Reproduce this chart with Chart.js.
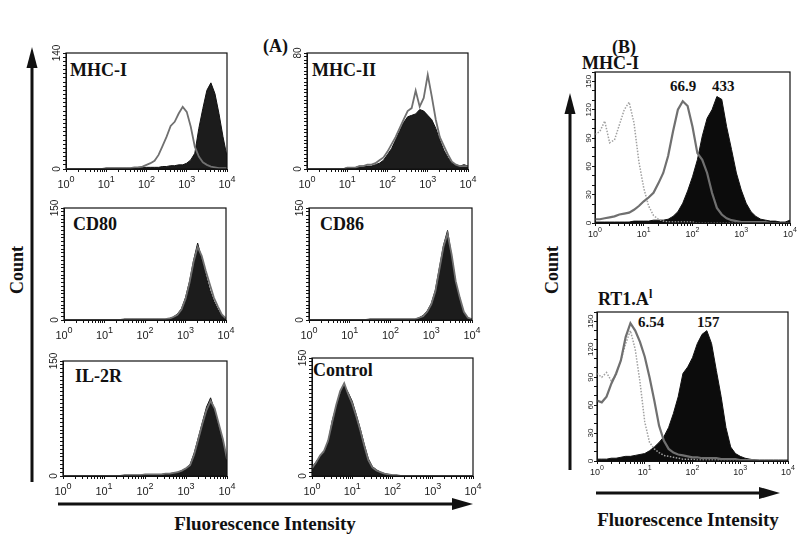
<!DOCTYPE html>
<html>
<head>
<meta charset="utf-8">
<script src="https://cdn.jsdelivr.net/npm/chart.js@4.4.1/dist/chart.umd.min.js"></script>
<style>
body { margin: 0; background: #fff; width: 800px; height: 535px; position: relative; overflow: hidden; font-family: "Liberation Serif", "Times New Roman", serif; }
canvas { position: absolute; }
svg { position: absolute; left: 0; top: 0; }
.t { position: absolute; font-weight: bold; color: #111; white-space: nowrap; line-height: 1; }
.p { font-size: 18px; }
.n { font-size: 15px; }
</style>
</head>
<body>
<svg width="800" height="535">
  <!-- panel A arrows -->
  <line x1="32" y1="482" x2="32" y2="64" stroke="#111" stroke-width="3"/>
  <polygon points="32,47 26.5,68 37.5,68" fill="#111"/>
  <line x1="58" y1="504" x2="455" y2="504" stroke="#111" stroke-width="3"/>
  <polygon points="473,504 452,498 452,510" fill="#111"/>
  <!-- panel B arrows -->
  <line x1="570" y1="470" x2="570" y2="110" stroke="#111" stroke-width="3"/>
  <polygon points="570,93 564.5,114 575.5,114" fill="#111"/>
  <line x1="596" y1="493" x2="762" y2="493" stroke="#111" stroke-width="3"/>
  <polygon points="780,493 759,487 759,499" fill="#111"/>
</svg>

<div class="t" style="left:263px;top:37px;font-size:18px;">(A)</div>
<div class="t" style="left:612px;top:38px;font-size:18px;">(B)</div>

<div class="t p" style="left:70px;top:61px;">MHC-I</div>
<div class="t p" style="left:312px;top:61px;">MHC-II</div>
<div class="t p" style="left:73px;top:215px;">CD80</div>
<div class="t p" style="left:320px;top:215px;">CD86</div>
<div class="t p" style="left:75px;top:367px;">IL-2R</div>
<div class="t p" style="left:313px;top:361px;">Control</div>
<div class="t p" style="left:582px;top:54px;">MHC-I</div>
<div class="t p" style="left:598px;top:288px;">RT1.A<sup style="font-size:12px;vertical-align:7px;">l</sup></div>

<div class="t n" style="left:670px;top:79px;">66.9</div>
<div class="t n" style="left:712px;top:79px;">433</div>
<div class="t n" style="left:638px;top:315px;">6.54</div>
<div class="t n" style="left:697px;top:315px;">157</div>

<div class="t" style="left:17px;top:270px;font-size:18px;transform:translate(-50%,-50%) rotate(-90deg);">Count</div>
<div class="t" style="left:552px;top:270px;font-size:18px;transform:translate(-50%,-50%) rotate(-90deg);">Count</div>
<div class="t" style="left:265px;top:514px;font-size:19px;transform:translateX(-50%);">Fluorescence Intensity</div>
<div class="t" style="left:688px;top:510px;font-size:19px;transform:translateX(-50%);">Fluorescence Intensity</div>

<script>
// histogram channels, in decades of fluorescence (10^0 .. 10^4)
const logSteps = [0,0.1,0.2,0.3,0.4,0.5,0.6,0.7,0.8,0.9,1,1.1,1.2,1.3,1.4,1.5,1.6,1.7,1.8,1.9,2,2.1,2.2,2.3,2.4,2.5,2.6,2.7,2.8,2.9,3,3.1,3.2,3.3,3.4,3.5,3.6,3.7,3.8,3.9,4];
const decadeExponents = ['0', '1', '2', '3', '4'];

// (A) counts per channel
const mhcIFill   = [0,0,0,0,0,0,0,0,0,0, 1,1,1,1,1,1,1,1,2,2, 2,2,2,2,3,3,4,4,5,5, 7,11,19,49,73,95,104,91,67,39,15];
const mhcILine   = [0,0,0,0,0,0,0,0,0,0, 1,1,1,1,1,1,1,2,2,3, 5,7,10,17,28,39,52,57,67,75, 69,51,27,15,8,5,3,2,1,1,1];
const mhcIIFill  = [0,0,0,0,0,0,0,0,0,0, 1,1,1,2,2,2,2,3,4,6, 10,14,20,26,32,36,37,38,41,40, 37,34,28,20,13,8,4,3,2,3,2];
const mhcIILine  = [0,0,0,0,0,0,0,0,0,0, 1,1,1,2,2,3,3,4,6,8, 12,17,22,28,34,40,42,54,43,49, 65,50,34,22,16,10,5,3,2,2,2];
const cd80Fill   = [0,0,0,0,0,0,0,0,0,0, 0,0,0,0,0,1,1,1,1,1, 1,1,1,1,1,1,2,4,8,15, 30,52,80,103,82,60,40,25,14,5,2];
const cd80Line   = [0,0,0,0,0,0,0,0,0,0, 0,0,0,0,0,1,1,1,1,1, 1,1,1,1,1,1,2,4,7,14, 28,50,78,98,86,66,48,30,18,7,2];
const cd86Fill   = [0,0,0,0,0,0,0,0,0,0, 0,0,0,0,0,1,1,1,1,1, 1,1,1,1,1,1,1,3,6,12, 22,40,70,100,120,85,50,28,10,3,1];
const cd86Line   = [0,0,0,0,0,0,0,0,0,0, 0,0,0,0,0,1,1,1,1,1, 1,1,1,1,1,1,1,3,5,11, 21,38,68,98,116,88,52,30,11,3,1];
const il2rFill   = [0,0,0,0,0,0,0,0,0,0, 0,0,0,0,0,1,1,1,1,1, 2,2,2,2,2,3,3,4,5,7, 10,15,30,50,70,90,102,85,65,45,20];
const il2rLine   = [0,0,0,0,0,0,0,0,0,0, 0,0,0,0,0,1,1,1,1,1, 2,2,2,2,2,3,3,4,5,7, 10,14,28,48,68,86,98,88,68,48,22];
const controlFill= [11,18,25,30,42,70,88,105,115,106, 95,78,60,40,22,12,8,5,3,2, 1,1,0,0,0,0,0,0,0,0, 0,0,0,0,0,0,0,0,0,0,0];
const controlLine= [10,17,26,32,45,68,90,108,118,104, 92,76,58,38,20,11,7,5,3,2, 1,1,0,0,0,0,0,0,0,0, 0,0,0,0,0,0,0,0,0,0,0];

// (B) counts per channel
const mhcBIso    = [94,97,108,85,88,104,120,128,106,65, 37,18,8,4,2,1,1,1,1,1, 1,0,0,0,0,0,0,0,0,0, 0,0,0,0,0,0,0,0,0,0,0];
const mhcBLine   = [4,4,5,6,7,9,10,11,14,18, 23,27,32,42,53,71,97,120,129,124, 102,74,67,53,32,16,9,5,3,2, 1,1,1,1,1,1,0,0,0,0,0];
const mhcBFill   = [1,1,1,1,1,1,1,1,2,2, 2,2,3,3,3,4,7,12,21,34, 49,67,92,111,120,134,131,102,78,53, 35,21,12,7,4,3,2,2,1,1,3];
const rt1Iso     = [94,90,95,86,92,108,126,140,120,85, 42,20,13,9,6,5,4,3,2,2, 2,1,1,1,1,1,1,1,1,1, 1,1,0,0,0,0,0,0,0,0,0];
const rt1Line    = [65,63,69,83,94,108,133,148,140,128, 112,90,65,38,22,13,9,7,6,5, 4,4,3,3,3,3,2,2,2,2, 1,1,1,1,0,0,0,0,0,0,0];
const rt1Fill    = [2,2,2,3,3,4,5,5,6,7, 8,11,15,20,26,36,51,69,94,101, 111,126,136,140,126,97,69,36,15,8, 5,3,2,1,1,1,1,1,1,1,1];

const toPoints = arr => arr.map((v, i) => ({ x: Math.pow(10, logSteps[i]), y: v }));

// minor log ticks 1..9 per decade
const xTickValues = [];
for (let d = 0; d < 4; d++) {
    for (let m = 1; m < 10; m++) xTickValues.push(m * Math.pow(10, d));
}
xTickValues.push(10000);

const panels = [
    { box: [66, 53, 227, 169],  ymax: 140, step: 5,  ylab: [0, 140], fill: mhcIFill,  line: mhcILine },
    { box: [307, 53, 468, 169], ymax: 80,  step: 2.5, ylab: [0, 80], fill: mhcIIFill, line: mhcIILine },
    { box: [64, 208, 226, 320], ymax: 150, step: 5,  ylab: [0, 150], fill: cd80Fill,  line: cd80Line },
    { box: [309, 208, 472, 320],ymax: 150, step: 5,  ylab: [0, 150], fill: cd86Fill,  line: cd86Line },
    { box: [63, 361, 227, 476], ymax: 150, step: 5,  ylab: [0, 150], fill: il2rFill,  line: il2rLine },
    { box: [312, 358, 473, 476],ymax: 150, step: 5,  ylab: [0, 150], fill: controlFill, line: controlLine },
    { box: [595, 72, 790, 223], ymax: 160, step: 10, ylab: [0, 30, 60, 90, 120, 150], fill: mhcBFill, line: mhcBLine, iso: mhcBIso, small: true },
    { box: [597, 312, 788, 461],ymax: 160, step: 10, ylab: [0, 30, 60, 90, 120, 150], fill: rt1Fill,  line: rt1Line,  iso: rt1Iso,  small: true }
];

const framePlugin = {
    id: 'frame',
    afterDatasetsDraw(chart) {
        const { ctx, chartArea: a } = chart;
        ctx.save();
        ctx.strokeStyle = '#111';
        ctx.lineWidth = 1.2;
        ctx.strokeRect(a.left, a.top, a.right - a.left, a.bottom - a.top);
        ctx.restore();
    }
};

// rotated count labels on the y axis, 10^n labels on the x axis
const axisLabelPlugin = {
    id: 'axisLabels',
    afterDraw(chart, args, opts) {
        const { ctx, chartArea, scales } = chart;
        const fam = '"Liberation Sans", "DejaVu Sans", sans-serif';
        ctx.save();
        ctx.fillStyle = '#222';
        ctx.font = opts.ySize + 'px ' + fam;
        ctx.textAlign = 'center';
        ctx.textBaseline = 'middle';
        opts.values.forEach(v => {
            ctx.save();
            ctx.translate(chartArea.left - opts.yOffset, scales.y.getPixelForValue(v));
            ctx.rotate(-Math.PI / 2);
            ctx.fillText(String(v), 0, 0);
            ctx.restore();
        });

        ctx.textAlign = 'left';
        ctx.textBaseline = 'alphabetic';
        decadeExponents.forEach((ex, i) => {
            const x = scales.x.getPixelForValue(Math.pow(10, i));
            ctx.font = opts.xSize + 'px ' + fam;
            const w1 = ctx.measureText('10').width;
            ctx.font = opts.supSize + 'px ' + fam;
            const w2 = ctx.measureText(ex).width;
            const x0 = x - (w1 + w2) / 2;
            ctx.font = opts.xSize + 'px ' + fam;
            ctx.fillText('10', x0, chartArea.bottom + opts.base);
            ctx.font = opts.supSize + 'px ' + fam;
            ctx.fillText(ex, x0 + w1, chartArea.bottom + opts.supBase);
        });
        ctx.restore();
    }
};

const PAD_TOP = 10, PAD_RIGHT = 12, Y_W = 16, X_H = 24;

panels.forEach(p => {
    const [L, T, R, B] = p.box;
    const cv = document.createElement('canvas');
    cv.width = (R - L) + Y_W + PAD_RIGHT;
    cv.height = (B - T) + PAD_TOP + X_H;
    cv.style.left = (L - Y_W) + 'px';
    cv.style.top = (T - PAD_TOP) + 'px';
    document.body.appendChild(cv);

    const datasets = [{
        data: toPoints(p.fill),
        fill: 'origin',
        backgroundColor: p.small ? '#0c0c0c' : '#1c1c1c',
        borderColor: '#111',
        borderWidth: 1,
        order: 2
    }, {
        data: toPoints(p.line),
        fill: false,
        borderColor: '#707070',
        borderWidth: p.small ? 2.2 : 1.8,
        order: 0
    }];
    if (p.iso) {
        datasets.push({
            data: toPoints(p.iso),
            fill: false,
            borderColor: '#a0a0a0',
            borderWidth: 1.5,
            borderDash: [1.5, 1.5],
            order: 1
        });
    }

    new Chart(cv, {
        type: 'line',
        data: { datasets: datasets },
        plugins: [framePlugin, axisLabelPlugin],
        options: {
            responsive: false,
            animation: false,
            devicePixelRatio: 1,
            elements: { point: { radius: 0 }, line: { tension: 0 } },
            layout: { padding: { left: 0, top: PAD_TOP, right: PAD_RIGHT, bottom: 0 } },
            plugins: {
                legend: { display: false },
                tooltip: { enabled: false },
                axisLabels: p.small
                    ? { values: p.ylab, yOffset: 6, ySize: 8, xSize: 9, supSize: 7, base: 14, supBase: 9 }
                    : { values: p.ylab, yOffset: 9, ySize: 10, xSize: 11, supSize: 9, base: 19, supBase: 13 }
            },
            scales: {
                x: {
                    type: 'logarithmic',
                    min: 1,
                    max: 10000,
                    afterBuildTicks: s => { s.ticks = xTickValues.map(v => ({ value: v })); },
                    afterFit: s => { s.height = X_H; },
                    ticks: { autoSkip: false, maxRotation: 0, minRotation: 0, callback: () => '' },
                    grid: { drawOnChartArea: false, drawTicks: true, tickLength: 3, color: '#111' },
                    border: { color: '#111', width: 1 }
                },
                y: {
                    min: 0,
                    max: p.ymax,
                    afterFit: s => { s.width = Y_W; },
                    ticks: { display: false, stepSize: p.step },
                    grid: { drawOnChartArea: false, drawTicks: true, tickLength: 3, color: '#111' },
                    border: { color: '#111', width: 1 }
                }
            }
        }
    });
});
</script>
</body>
</html>
